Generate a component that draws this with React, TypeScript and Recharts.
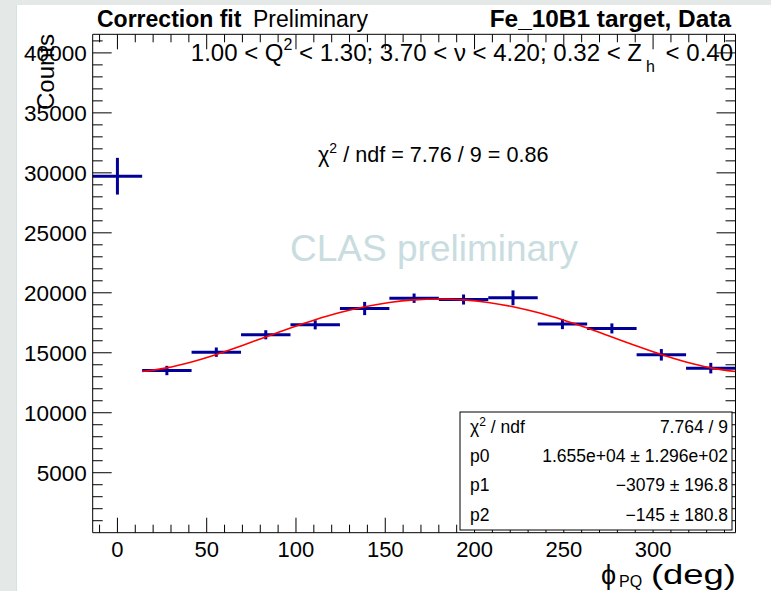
import React from 'react';
import { ComposedChart, XAxis, YAxis, Scatter, ErrorBar, Line } from 'recharts';

// Bin centres (phi_PQ, deg), corrected counts and their errors
const binCenters = [0, 27.69, 55.38, 83.08, 110.77, 138.46, 166.15, 193.85, 221.54, 249.23, 276.92, 304.62, 332.31];
const counts = [29720, 13520, 15050, 16500, 17330, 18690, 19550, 19440, 19580, 17390, 17030, 14830, 13720];
const countErrors = [1530, 390, 390, 380, 380, 550, 390, 420, 620, 420, 420, 480, 440];
const binHalfWidths = [13.85, 13.85, 13.85, 13.85, 13.85, 13.85, 13.85, 13.85, 13.85, 13.85, 13.85, 13.85, 13.85];

// Fit curve
const fitPhi = [13.85, 27.69, 41.54, 55.38, 69.23, 83.08, 96.92, 110.77, 124.62, 138.46, 152.31, 166.15, 180,
   193.85, 207.69, 221.54, 235.38, 249.23, 263.08, 276.92, 290.77, 304.62, 318.46, 332.31, 346.15];
const fitValues = [13432, 13741, 14228, 14852, 15567, 16320, 17062, 17750, 18351, 18837, 19194, 19411, 19484,
   19411, 19194, 18837, 18351, 17750, 17062, 16320, 15567, 14852, 14228, 13741, 13432];

// Axis ticks
const xTicks = [-10, 0, 10, 20, 30, 40, 50, 60, 70, 80, 90, 100, 110, 120, 130, 140, 150, 160, 170, 180, 190,
   200, 210, 220, 230, 240, 250, 260, 270, 280, 290, 300, 310, 320, 330, 340];
const xLabels = [0, 50, 100, 150, 200, 250, 300];
const yTicks = [1000, 2000, 3000, 4000, 5000, 6000, 7000, 8000, 9000, 10000, 11000, 12000, 13000, 14000, 15000,
   16000, 17000, 18000, 19000, 20000, 21000, 22000, 23000, 24000, 25000, 26000, 27000, 28000, 29000, 30000,
   31000, 32000, 33000, 34000, 35000, 36000, 37000, 38000, 39000, 40000, 41000];
const yLabels = [5000, 10000, 15000, 20000, 25000, 30000, 35000, 40000];

const FONT = '"Liberation Sans", Arial, Helvetica, sans-serif';
const BLUE = '#000099';

const points = binCenters.map((x, i) => ({ x, y: counts[i], ey: countErrors[i], ex: binHalfWidths[i] }));
const fitData = fitPhi.map((x, i) => ({ x, y: fitValues[i] }));

const noMarker = () => <g />;

function BottomTick({ x, y, payload }: any) {
   const major = payload.value % 50 === 0;
   return (
      <g>
         <line x1={x} x2={x} y1={y} y2={y - (major ? 15 : 8)} stroke="#000" strokeWidth={1} />
         {xLabels.includes(payload.value) && (
            <text x={x} y={y + 24} textAnchor="middle" fontSize={22} fontFamily={FONT} fill="#000">
               {payload.value}
            </text>
         )}
      </g>
   );
}

function TopTick({ x, y, payload }: any) {
   const major = payload.value % 50 === 0;
   return <line x1={x} x2={x} y1={y} y2={y + (major ? 15 : 8)} stroke="#000" strokeWidth={1} />;
}

function LeftTick({ x, y, payload }: any) {
   const major = payload.value % 5000 === 0;
   return (
      <g>
         <line x1={x} x2={x + (major ? 19 : 10)} y1={y} y2={y} stroke="#000" strokeWidth={1} />
         {yLabels.includes(payload.value) && (
            <text x={x - 6} y={y + 8} textAnchor="end" fontSize={22.5} fontFamily={FONT} fill="#000">
               {payload.value}
            </text>
         )}
      </g>
   );
}

function RightTick({ x, y, payload }: any) {
   const major = payload.value % 5000 === 0;
   return <line x1={x} x2={x - (major ? 19 : 10)} y1={y} y2={y} stroke="#000" strokeWidth={1} />;
}

export default function App() {
   const xDomain = [-13.846, 346.154];
   const yDomain = [0, 41550];
   return (
      <div style={{ position: 'absolute', left: 0, top: 0, width: 771, height: 591, background: '#e4e8e7' }}>
         <div style={{ position: 'absolute', left: 16, top: 5, width: 755, height: 586, background: '#fff', borderLeft: '1px solid #d3e2e2' }} />
         <div style={{ position: 'absolute', left: 0, top: 0 }}>
            <ComposedChart width={771} height={591} margin={{ top: 33.3, right: 34.5, bottom: 57.3, left: 91.7 }}>
               <XAxis xAxisId="b" orientation="bottom" type="number" dataKey="x" domain={xDomain} allowDataOverflow
                  ticks={xTicks} interval={0} height={1} tickSize={0} tickMargin={0} tickLine={false}
                  axisLine={{ stroke: '#000' }} tick={<BottomTick />} />
               <XAxis xAxisId="t" orientation="top" type="number" dataKey="x" domain={xDomain} allowDataOverflow
                  ticks={xTicks} interval={0} height={1} tickSize={0} tickMargin={0} tickLine={false}
                  axisLine={{ stroke: '#000' }} tick={<TopTick />} />
               <YAxis yAxisId="l" orientation="left" type="number" dataKey="y" domain={yDomain} allowDataOverflow
                  ticks={yTicks} interval={0} width={1} tickSize={0} tickMargin={0} tickLine={false}
                  axisLine={{ stroke: '#000' }} tick={<LeftTick />} />
               <YAxis yAxisId="r" orientation="right" type="number" dataKey="y" domain={yDomain} allowDataOverflow
                  ticks={yTicks} interval={0} width={1} tickSize={0} tickMargin={0} tickLine={false}
                  axisLine={{ stroke: '#000' }} tick={<RightTick />} />
               <Scatter xAxisId="b" yAxisId="l" data={points} dataKey="y" shape={noMarker} isAnimationActive={false}>
                  <ErrorBar dataKey="ey" direction="y" width={0} stroke={BLUE} strokeWidth={3} />
                  <ErrorBar dataKey="ex" direction="x" width={0} stroke={BLUE} strokeWidth={3} />
               </Scatter>
               <Line xAxisId="t" yAxisId="r" data={fitData} dataKey="y" type="monotone" stroke="#ff0000"
                  strokeWidth={1.6} dot={false} activeDot={false} isAnimationActive={false} />
            </ComposedChart>
         </div>
         <svg width={771} height={591} style={{ position: 'absolute', left: 0, top: 0, pointerEvents: 'none' }}
            fontFamily={FONT}>
            <text x={97} y={27} fontSize={23} fontWeight="bold">Correction fit</text>
            <text x={253} y={27} fontSize={23}>Preliminary</text>
            <text x={731} y={27} fontSize={24.4} fontWeight="bold" textAnchor="end">Fe_10B1 target, Data</text>
            <text x={733} y={61} fontSize={24} textAnchor="end">
               <tspan>1.00 &lt; Q</tspan>
               <tspan fontSize={16} dy={-11}>2</tspan>
               <tspan dy={11}> &lt; 1.30; 3.70 &lt;  ν &lt; 4.20; 0.32 &lt; Z</tspan>
               <tspan fontSize={16} dx={4} dy={11}>h</tspan>
               <tspan dx={4} dy={-11}> &lt; 0.40</tspan>
            </text>
            <text x={54} y={72} fontSize={24} textAnchor="middle" transform="rotate(-90 54 72)">Counts</text>
            <text x={318} y={162} fontSize={21.6}>
               <tspan>χ</tspan>
               <tspan fontSize={14} dy={-9}>2</tspan>
               <tspan dy={9}> / ndf = 7.76 / 9 = 0.86</tspan>
            </text>
            <text x={434} y={261} fontSize={37} textAnchor="middle" fill="#c9dde0">CLAS preliminary</text>
            <rect x={460} y={412} width={272} height={118} fill="#fff" stroke="#000" strokeWidth={1} />
            <g fontSize={17.5}>
               <text x={470} y={433}>
                  <tspan>χ</tspan>
                  <tspan fontSize={12} dy={-7}>2</tspan>
                  <tspan dy={7}> / ndf</tspan>
               </text>
               <text x={728} y={433} textAnchor="end">7.764 / 9</text>
               <text x={470} y={462}>p0</text>
               <text x={728} y={462} textAnchor="end">1.655e+04 ± 1.296e+02</text>
               <text x={470} y={491}>p1</text>
               <text x={728} y={491} textAnchor="end">−3079 ± 196.8</text>
               <text x={470} y={521}>p2</text>
               <text x={728} y={521} textAnchor="end">−145 ± 180.8</text>
            </g>
            <text x={601} y={584} fontSize={27}>ϕ</text>
            <text x={619} y={587} fontSize={16}>PQ</text>
            <text x={651} y={584} fontSize={27} textLength={85} lengthAdjust="spacingAndGlyphs">(deg)</text>
         </svg>
      </div>
   );
}
